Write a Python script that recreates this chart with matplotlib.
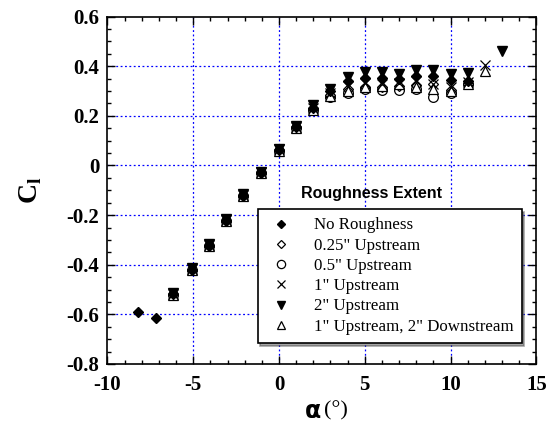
import numpy as np
import matplotlib
matplotlib.use("Agg")
import matplotlib.pyplot as plt
from matplotlib.ticker import MultipleLocator

plt.rcParams["font.family"] = "Liberation Serif"
plt.rcParams["axes.unicode_minus"] = False
plt.rcParams["mathtext.fontset"] = "custom"
plt.rcParams["mathtext.rm"] = "Liberation Serif"
plt.rcParams["mathtext.bf"] = "Liberation Serif:bold"

# angle of attack (deg) and lift coefficient for each roughness case
a_none = [-8.2, -7.2, -6.2, -5.1, -4.1, -3.1, -2.1, -1.05, 0, 1, 2, 3, 4, 5, 6, 7, 8, 9, 10, 11]
cl_none = [-0.590, -0.613, -0.516, -0.420, -0.324, -0.222, -0.123, -0.029, 0.062, 0.153,
           0.232, 0.300, 0.340, 0.352, 0.352, 0.348, 0.362, 0.361, 0.345, 0.340]

a_rough = [-6.2, -5.1, -4.1, -3.1, -2.1, -1.05, 0, 1, 2, 3, 4, 5, 6, 7, 8, 9, 10, 11]
cl_025 = [-0.516, -0.420, -0.322, -0.220, -0.120, -0.028, 0.064, 0.155, 0.228,
          0.285, 0.310, 0.318, 0.318, 0.320, 0.325, 0.330, 0.305, 0.330]
cl_05 = [-0.520, -0.420, -0.325, -0.222, -0.122, -0.030, 0.060, 0.150, 0.225,
         0.274, 0.291, 0.307, 0.305, 0.305, 0.307, 0.274, 0.291, 0.330]

a_1in = a_rough + [12]
cl_1in = [-0.518, -0.418, -0.322, -0.220, -0.120, -0.027, 0.065, 0.155, 0.232,
          0.290, 0.320, 0.334, 0.330, 0.333, 0.340, 0.330, 0.315, 0.338, 0.405]

a_2in = a_rough + [13]
cl_2in = [-0.512, -0.414, -0.318, -0.216, -0.116, -0.025, 0.068, 0.160, 0.242,
          0.310, 0.355, 0.375, 0.375, 0.370, 0.383, 0.383, 0.370, 0.372, 0.460]

a_updown = a_rough + [12]
cl_updown = [-0.520, -0.420, -0.324, -0.222, -0.122, -0.030, 0.060, 0.150, 0.225,
             0.280, 0.300, 0.315, 0.320, 0.330, 0.315, 0.310, 0.300, 0.330, 0.380]

fig = plt.figure(figsize=(5.54, 4.30), dpi=100)
ax = fig.add_axes([0.194, 0.1535, 0.774, 0.808])

ms = 6
h_none, = ax.plot(a_none, cl_none, "D", color="k", ms=ms - 1, zorder=6, label="No Roughness")
h_025, = ax.plot(a_rough, cl_025, "D", mfc="w", mec="k", mew=0.9, ms=ms - 1, zorder=3,
                 label='0.25" Upstream')
h_05, = ax.plot(a_rough, cl_05, "o", mfc="w", mec="k", mew=0.9, ms=ms + 1, zorder=2,
                label='0.5" Upstream')
h_1in, = ax.plot(a_1in, cl_1in, "x", color="k", mew=0.9, ms=ms + 1, zorder=5,
                 label='1" Upstream')
h_2in, = ax.plot(a_2in, cl_2in, "v", color="k", ms=ms + 1, zorder=7, label='2" Upstream')
h_ud, = ax.plot(a_updown, cl_updown, "^", mfc="w", mec="k", mew=0.9, ms=ms + 1, zorder=4,
                label='1" Upstream, 2" Downstream')

ax.set_xlim(-10, 15)
ax.set_ylim(-0.8, 0.6)
ax.xaxis.set_major_locator(MultipleLocator(5))
ax.xaxis.set_minor_locator(MultipleLocator(1))
ax.yaxis.set_major_locator(MultipleLocator(0.2))
ax.yaxis.set_minor_locator(MultipleLocator(0.05))
ax.yaxis.set_major_formatter(matplotlib.ticker.FuncFormatter(
    lambda v, p: "0" if abs(v) < 1e-9 else f"{v:.1f}"))
ax.tick_params(which="both", direction="in", top=True, right=True, width=1)
ax.tick_params(which="major", length=6, labelsize=15)
ax.tick_params(which="minor", length=3)
ax.tick_params(axis="x", pad=8)
ax.tick_params(axis="y", pad=6)
for lab in ax.get_xticklabels() + ax.get_yticklabels():
    lab.set_fontweight("bold")
for s in ax.spines.values():
    s.set_linewidth(1.2)

for x in [-5, 0, 5, 10]:
    ax.axvline(x, color="#0000ff", ls=(0, (1.5, 2)), lw=0.9, zorder=0)
for y in [-0.6, -0.4, -0.2, 0, 0.2, 0.4]:
    ax.axhline(y, color="#0000ff", ls=(0, (1.5, 2)), lw=0.9, zorder=0)

ax.set_ylabel(r"C$_\mathbf{l}$", fontsize=20, fontweight="bold", labelpad=16)

fig.text(0.580, 0.045, "α", fontsize=17, fontweight="bold", family="DejaVu Sans",
         ha="right", va="center")
fig.text(0.585, 0.045, "(°)", fontsize=16, ha="left", va="center")

leg = ax.legend(handles=[h_none, h_025, h_05, h_1in, h_2in, h_ud],
                loc="lower right", bbox_to_anchor=(0.966, 0.06), fontsize=12.2,
                frameon=True, fancybox=False, shadow=True, edgecolor="k",
                framealpha=1, borderpad=0.5, labelspacing=0.25, handletextpad=1.0,
                handlelength=1.8, borderaxespad=0, markerscale=0.85)
leg.get_frame().set_linewidth(1.2)
ax.text(5.4, -0.115, "Roughness Extent", fontsize=11.5, fontweight="bold",
        family="Liberation Sans", ha="center", va="center")

plt.savefig("out.png", dpi=100)
